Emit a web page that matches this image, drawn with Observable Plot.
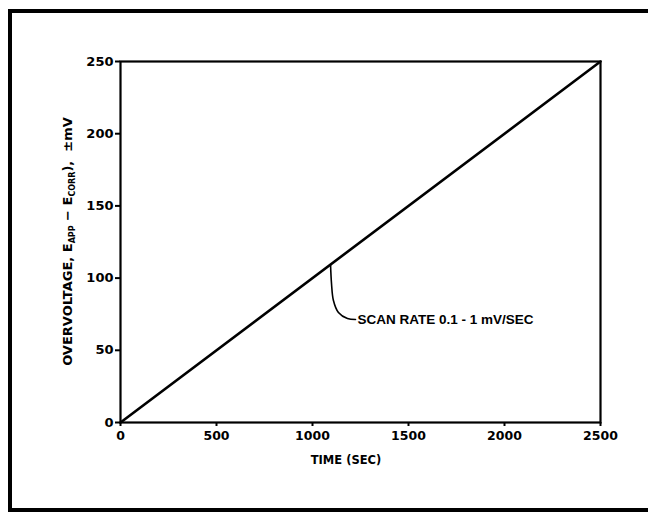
<!DOCTYPE html>
<html><head><meta charset="utf-8">
<script src="https://cdn.jsdelivr.net/npm/d3@7"></script>
<script src="https://cdn.jsdelivr.net/npm/@observablehq/plot@0.6"></script>
<style>
html,body{margin:0;padding:0;background:#fff;overflow:hidden;width:648px;height:514px}
#wrap{position:relative;width:648px;height:514px;overflow:hidden}
#border{position:absolute;left:8px;top:9px;width:700px;height:503px;border-left:4px solid #000;border-top:4px solid #000;border-bottom:4px solid #000;box-sizing:border-box;pointer-events:none}
svg{display:block}
</style>
</head><body>
<div id="wrap"><div id="border"></div></div>
<script>
// Data
const timeSec = [0, 2500];
const overvoltage = [0, 250];
const xTicks = [0, 500, 1000, 1500, 2000, 2500];
const yTicks = [0, 50, 100, 150, 200, 250];
const leaderTime = [1094, 1099, 1109, 1135, 1182, 1224];
const leaderMv = [109.4, 96.3, 84.5, 76.2, 72.0, 71.3];
const noteTime = [1234];
const noteMv = [71.3];
const noteText = ["SCAN RATE 0.1 - 1 mV/SEC"];
const xLabel = "TIME (SEC)";

const lineData = timeSec.map((t, i) => ({t, v: overvoltage[i]}));
const leaderData = leaderTime.map((t, i) => ({t, v: leaderMv[i]}));
const noteData = noteTime.map((t, i) => ({t, v: noteMv[i], s: noteText[i]}));

const font = "'DejaVu Sans', sans-serif";
const fmt = d => String(d);
const chart = Plot.plot({
  width: 648, height: 514,
  marginLeft: 120, marginRight: 48, marginTop: 61, marginBottom: 92,
  style: {fontFamily: font, fontWeight: "bold", fontSize: "12px", color: "#000", background: "transparent"},
  x: {domain: [0, 2500], ticks: xTicks, tickFormat: fmt, label: null},
  y: {domain: [0, 250], ticks: yTicks, tickFormat: fmt, label: null},
  marks: [
    Plot.frame({stroke: "#000", strokeWidth: 2.2}),
    Plot.axisX({ticks: xTicks, tickFormat: fmt, tickSize: 4, tickPadding: 5, strokeWidth: 2, fontSize: 12.5, label: null}),
    Plot.axisY({ticks: yTicks, tickFormat: fmt, tickSize: 5, tickPadding: 2, strokeWidth: 2, fontSize: 13, label: null}),
    Plot.line(lineData, {x: "t", y: "v", stroke: "#000", strokeWidth: 2.6}),
    Plot.line(leaderData, {x: "t", y: "v", stroke: "#000", strokeWidth: 1.6, curve: "catmull-rom"}),
    Plot.text(noteData, {x: "t", y: "v", text: "s", textAnchor: "start", lineAnchor: "middle", fontSize: 13.5, fontWeight: "bold", fill: "#000", fontFamily: "'Liberation Sans', Arial, sans-serif"})
  ]
});
document.getElementById("wrap").prepend(chart);

// axis titles with subscripts
const svg = d3.select(chart);
const xs = chart.scale("x"), ys = chart.scale("y");
const cy = (ys.apply(0) + ys.apply(250)) / 2;
const cx = (xs.apply(0) + xs.apply(2500)) / 2;
svg.append("text")
  .attr("x", cx - 14).attr("y", 464)
  .attr("text-anchor", "middle")
  .attr("font-family", font).attr("font-weight", "bold").attr("font-size", 11.5)
  .attr("fill", "#000")
  .text(xLabel);
const yl = svg.append("text")
  .attr("transform", `translate(72,${cy}) rotate(-90)`)
  .attr("text-anchor", "middle")
  .attr("font-family", font).attr("font-weight", "bold").attr("font-size", 13)
  .attr("fill", "#000");
yl.append("tspan").text("OVERVOLTAGE, E");
yl.append("tspan").attr("font-size", 8).attr("dy", 2.5).text("APP");
yl.append("tspan").attr("dy", -2.5).text(" \u2212 E");
yl.append("tspan").attr("font-size", 8).attr("dy", 2.5).text("CORR");
yl.append("tspan").attr("dy", -2.5).text("),  \u00B1mV");
</script>
</body></html>
